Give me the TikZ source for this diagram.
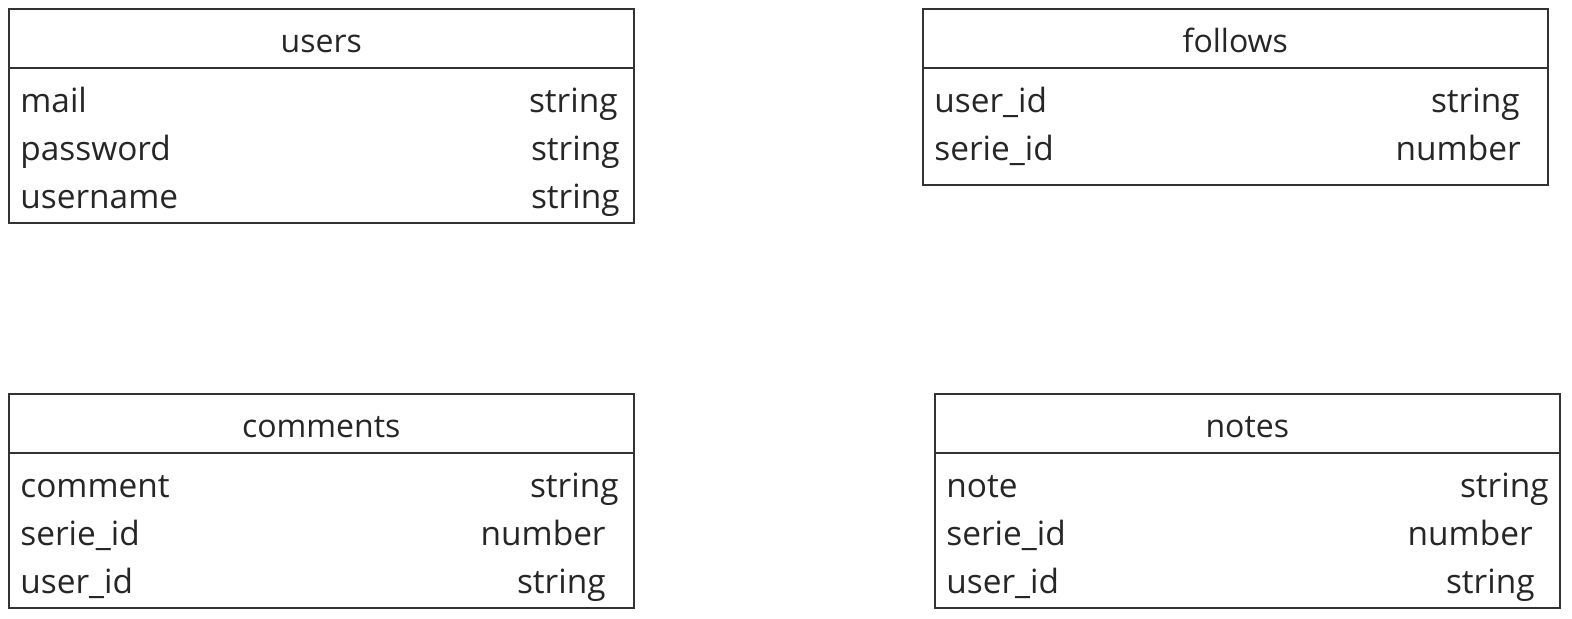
\documentclass[tikz,border=0pt]{standalone}
\usepackage{fontspec}
\setmainfont{Open Sans}
\usepackage{tikz}
\definecolor{linedark}{HTML}{333333}
\definecolor{textdark}{HTML}{262626}

\begin{document}
\begin{tikzpicture}[x=0.5pt,y=-0.5pt,
    tbl/.style={draw=linedark, line width=0.75pt, inner sep=0pt},
    ttl/.style={anchor=base, text=textdark, font=\fontsize{16}{19}\selectfont},
    fld/.style={anchor=base west, text=textdark, font=\fontsize{16.7}{20}\selectfont, inner sep=0pt},
    typ/.style={anchor=base east, text=textdark, font=\fontsize{16.7}{20}\selectfont, inner sep=0pt}]
    \useasboundingbox (0,0) rectangle (1572,618);
    % boxes
    \node[tbl, anchor=north west, minimum width=312.5pt, minimum height=107pt] (users) at (8,8) {};
    \node[tbl, anchor=north west, minimum width=312.5pt, minimum height=88pt] (follows) at (922,8) {};
    \node[tbl, anchor=north west, minimum width=312.5pt, minimum height=107pt] (comments) at (8,393) {};
    \node[tbl, anchor=north west, minimum width=312.5pt, minimum height=107pt] (notes) at (934,393) {};
    % header lines
    \draw[tbl] (users.west |- 0,68) -- (users.east |- 0,68);
    \draw[tbl] (follows.west |- 0,68) -- (follows.east |- 0,68);
    \draw[tbl] (comments.west |- 0,453) -- (comments.east |- 0,453);
    \draw[tbl] (notes.west |- 0,453) -- (notes.east |- 0,453);
    % titles
    \node[ttl] (users-title) at (users.north |- 0,52) {users};
    \node[ttl] (follows-title) at (follows.north |- 0,52) {follows};
    \node[ttl] (comments-title) at (comments.north |- 0,437) {comments};
    \node[ttl] (notes-title) at (notes.north |- 0,437) {notes};
    % fields
    \foreach \f/\t/\y/\r [count=\i] in {mail/string/112/618, password/string/160/620, username/string/208/620}{
      \node[fld] (users-f\i) at (20,\y) {\f};
      \node[typ] (users-t\i) at (\r,\y) {\t};
    }
    \foreach \f/\t/\y/\r [count=\i] in {user\_id/string/112/1520, serie\_id/number/160/1521}{
      \node[fld] (follows-f\i) at (934,\y) {\f};
      \node[typ] (follows-t\i) at (\r,\y) {\t};
    }
    \foreach \f/\t/\y/\r [count=\i] in {comment/string/497/619, serie\_id/number/545/606, user\_id/string/593/606}{
      \node[fld] (comments-f\i) at (20,\y) {\f};
      \node[typ] (comments-t\i) at (\r,\y) {\t};
    }
    \foreach \f/\t/\y/\r [count=\i] in {note/string/497/1549, serie\_id/number/545/1533, user\_id/string/593/1535}{
      \node[fld] (notes-f\i) at (946,\y) {\f};
      \node[typ] (notes-t\i) at (\r,\y) {\t};
    }
\end{tikzpicture}
\end{document}
